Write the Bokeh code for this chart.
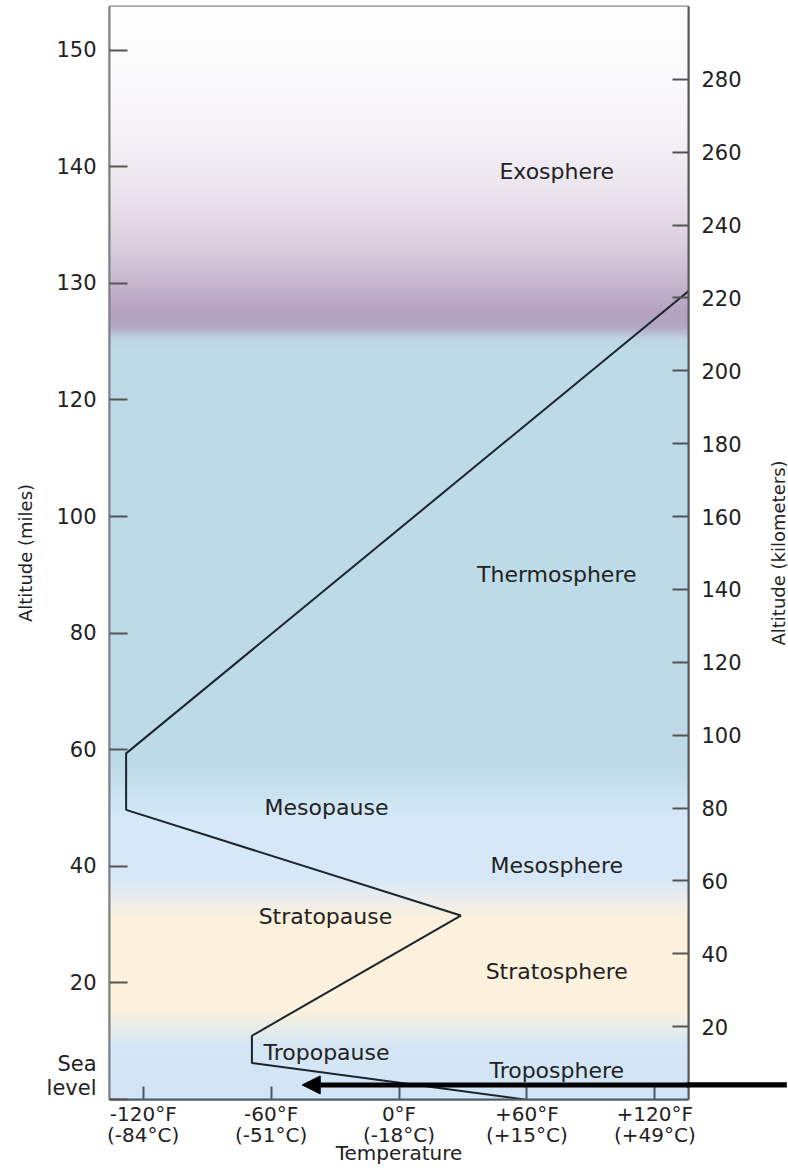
import math
import numpy as np
from bokeh.plotting import figure
from bokeh.models import Range1d, LinearAxis, FixedTicker, Label, Arrow, NormalHead
from bokeh.core.properties import value
from bokeh.embed import file_html
from bokeh.resources import INLINE

# ---- data -------------------------------------------------------------
temp_f = [59, -69, -69, 29, -128, -128, 136]          # temperature profile (°F)
alt_km = [0, 10, 17.5, 50.5, 79.5, 95, 222]           # altitude (km)

x_ticks = [-120, -60, 0, 60, 120]
x_tick_labels = ["-120°F\n(-84°C)", "-60°F\n(-51°C)", "0°F\n(-18°C)",
                 "+60°F\n(+15°C)", "+120°F\n(+49°C)"]

mile_ticks = [0, 20, 40, 60, 80, 100, 120, 140, 160, 180]
mile_tick_labels = ["Sea\nlevel\n\n", "20", "40", "60", "80", "100", "120",
                    "130", "140", "150"]

km_ticks = [20, 40, 60, 80, 100, 120, 140, 160, 180, 200, 220, 240, 260, 280]

layer_names = ["Exosphere", "Thermosphere", "Mesopause", "Mesosphere",
               "Stratopause", "Stratosphere", "Tropopause", "Troposphere"]
layer_temp = [74, 74, -34, 74, -34.5, 74, -34, 74]
layer_alt = [254.7, 144, 80.1, 64.2, 50.2, 35.1, 12.9, 8.0]

arrow_from = (183, 4.0)
arrow_to = (-45.4, 4.0)

# ---- background colour stops (km, colour) -------------------------------
bg_stops = [
    (0, "#d1e5f7"), (15, "#d6e7f5"), (20, "#eaeee8"), (24, "#fbf1dd"),
    (50, "#fbf1dd"), (55, "#ebedee"), (61, "#d7e8f7"), (78, "#d4e8f7"),
    (85, "#c9e2ef"), (92, "#bddbe6"), (206, "#bcdbe6"), (209, "#bcd5e1"),
    (212, "#b4a8c6"), (216, "#b5a2c0"), (223, "#c5b4cc"), (235, "#dcd0e0"),
    (250, "#ece5ee"), (270, "#f8f6f9"), (300, "#ffffff"),
]

X0, X1 = -135.8, 135.8
Y0, Y1 = 0, 300
FONT = "DejaVu Sans"
TXT = "#222222"

p = figure(width=788, height=1168, x_range=Range1d(X0, X1), y_range=Range1d(Y0, Y1),
           output_backend="svg", toolbar_location=None,
           x_axis_location=None, y_axis_location=None,
           min_border_left=109, min_border_right=100, min_border_top=6,
           min_border_bottom=68)
p.extra_y_ranges = {"miles": Range1d(0, 187.5)}
p.grid.visible = False
p.outline_line_color = "#8a8a8a"
p.outline_line_width = 2
p.background_fill_color = "white"
p.border_fill_color = "white"

# gradient background image
def hex_rgb(h):
    h = h.lstrip("#")
    return [int(h[i:i + 2], 16) for i in (0, 2, 4)]

n_rows = 900
ys = np.linspace(Y0, Y1, n_rows)
sk = [s[0] for s in bg_stops]
cols = np.array([hex_rgb(s[1]) for s in bg_stops], dtype=float)
img = np.empty((n_rows, 2), dtype=np.uint32)
view = img.view(dtype=np.uint8).reshape((n_rows, 2, 4))
for c in range(3):
    ch = np.interp(ys, sk, cols[:, c]).astype(np.uint8)
    view[:, :, c] = ch[:, None]
view[:, :, 3] = 255
p.image_rgba(image=[img], x=X0, y=Y0, dw=X1 - X0, dh=Y1 - Y0)

# temperature profile
p.line(temp_f, alt_km, line_color="#1a242c", line_width=2)

# layer labels
p.text(x=layer_temp, y=layer_alt, text=layer_names, text_align="center",
       text_baseline="middle", text_font=value(FONT),
       text_font_size="22px", text_color=TXT)

# bottom axis
xa = LinearAxis(ticker=FixedTicker(ticks=x_ticks), axis_label="Temperature")
xa.major_label_overrides = dict(zip(x_ticks, x_tick_labels))
xa.major_label_text_font = FONT
xa.major_label_text_font_size = "20px"
xa.major_label_text_line_height = 0.9
xa.major_label_text_color = TXT
xa.major_label_standoff = 2
xa.axis_label_text_font = FONT
xa.axis_label_text_font_size = "20px"
xa.axis_label_text_font_style = "normal"
xa.axis_label_text_color = TXT
xa.axis_label_standoff = -9
xa.axis_line_color = "#4a5a66"
xa.axis_line_width = 2
xa.major_tick_in = 13
xa.major_tick_out = 0
xa.major_tick_line_color = "#4a5a66"
xa.major_tick_line_width = 2
xa.minor_tick_line_color = None
p.add_layout(xa, "below")

# left axis (miles)
la = LinearAxis(y_range_name="miles", ticker=FixedTicker(ticks=mile_ticks),
                axis_label="Altitude (miles)")
la.major_label_overrides = dict(zip(mile_ticks, mile_tick_labels))
la.major_label_text_font = FONT
la.major_label_text_font_size = "21px"
la.major_label_text_line_height = 1.0
la.major_label_text_color = TXT
la.major_label_standoff = 13
la.axis_label_text_font = FONT
la.axis_label_text_font_size = "18px"
la.axis_label_text_font_style = "normal"
la.axis_label_text_color = TXT
la.axis_label_standoff = 8
la.axis_line_color = "#808080"
la.axis_line_width = 2
la.major_tick_in = 18
la.major_tick_out = 0
la.major_tick_line_color = "#555555"
la.major_tick_line_width = 2
la.minor_tick_line_color = None
p.add_layout(la, "left")

# right axis (km)
ra = LinearAxis(ticker=FixedTicker(ticks=km_ticks))
ra.major_label_text_font = FONT
ra.major_label_text_font_size = "21px"
ra.major_label_text_color = TXT
ra.major_label_standoff = 13
ra.axis_line_color = "#555555"
ra.axis_line_width = 2
ra.major_tick_in = 16
ra.major_tick_out = 0
ra.major_tick_line_color = "#555555"
ra.major_tick_line_width = 2
ra.minor_tick_line_color = None
p.add_layout(ra, "right")

# right axis title, reading bottom-to-top
p.add_layout(Label(x=X1, y=(Y0 + Y1) / 2, x_offset=90, angle=math.pi / 2,
                   text="Altitude (kilometers)", text_align="center",
                   text_baseline="middle", text_font=FONT, text_font_size="18px",
                   text_color=TXT), "right")

# black arrow (inside the frame)
p.add_layout(Arrow(x_start=arrow_from[0], y_start=arrow_from[1],
                   x_end=arrow_to[0], y_end=arrow_to[1],
                   line_color="black", line_width=5,
                   end=NormalHead(size=18, fill_color="black", line_color="black")))

# arrow tail continuing over the right margin (kept in the thin top panel so
# that it does not take room from the frame)
tail = Label(x=X1, y=arrow_from[1], x_offset=-2, text=" ",
             text_align="left", text_baseline="middle",
             text_font=FONT, text_font_size="1px",
             background_fill_color="black")
try:
    tail.padding = dict(left=50, right=50, top=2, bottom=2)
except Exception:
    tail.padding = (50, 50, 2, 2)
p.add_layout(tail, "above")

open("out.html", "w").write(file_html(p, INLINE))
